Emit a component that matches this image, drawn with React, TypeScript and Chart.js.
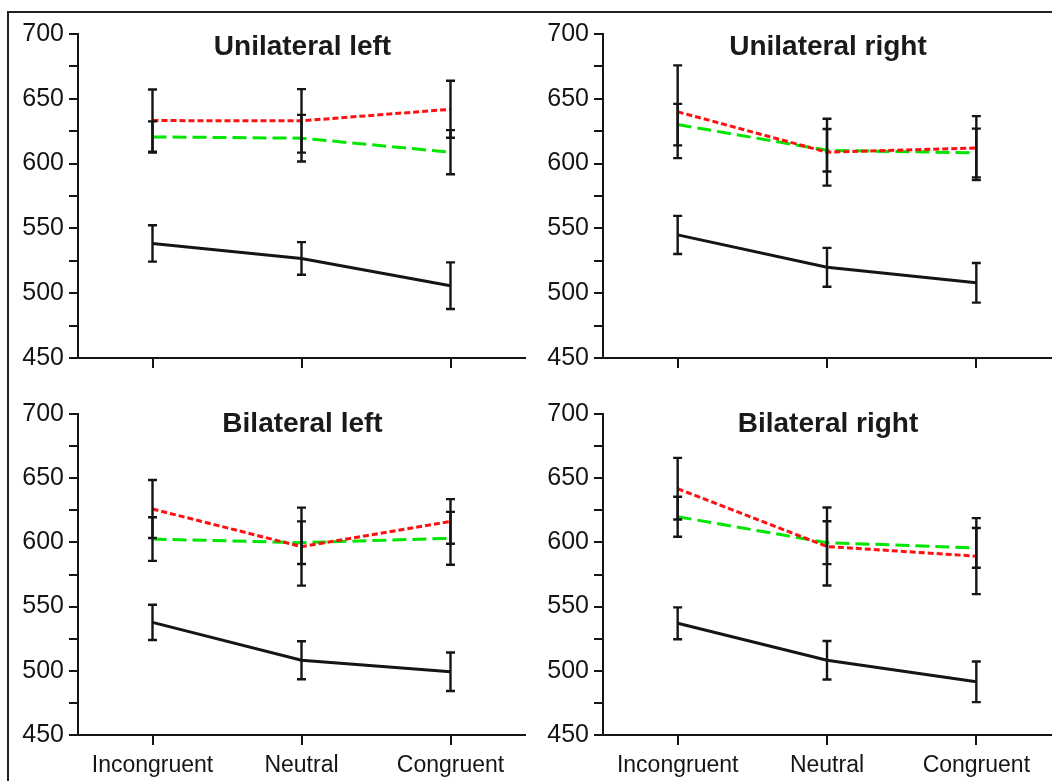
import React, { useEffect, useRef } from "react";
import { Chart, registerables } from "chart.js";

Chart.register(...registerables);

// ---------- data ----------
const categories = ["Incongruent", "Neutral", "Congruent"];
const panelTitles = ["Unilateral left", "Unilateral right", "Bilateral left", "Bilateral right"];
const yTickMin = 450;
const yTickMax = 700;
const yTickStep = 25;
const yLabelStep = 50;

// Series A: black solid line
const uniLeftA = [538.4, 526.8, 505.8];
const uniLeftAErr = [14, 12.6, 18];
const uniRightA = [545, 520, 508];
const uniRightAErr = [14.7, 15, 15.3];
const biLeftA = [537.7, 508.2, 499.3];
const biLeftAErr = [13.7, 14.8, 15];
const biRightA = [537, 508.2, 491.4];
const biRightAErr = [12.4, 15, 15.8];

// Series B: red dotted line
const uniLeftB = [633.2, 633, 641.9];
const uniLeftBErr = [24, 24.5, 22];
const uniRightB = [640, 608.8, 612];
const uniRightBErr = [35.8, 25.8, 24.6];
const biLeftB = [626, 596.7, 616.3];
const biLeftBErr = [22.6, 30.4, 17.4];
const biRightB = [641.8, 596.8, 589.3];
const biRightBErr = [24, 30.4, 29.6];

// Series C: green dashed line
const uniLeftC = [620.6, 619.6, 608.8];
const uniLeftCErr = [12, 18, 17];
const uniRightC = [630.1, 610.3, 608.2];
const uniRightCErr = [16, 16.4, 18.8];
const biLeftC = [602.6, 599.8, 603.2];
const biLeftCErr = [17, 16.6, 20.6];
const biRightC = [620, 599.8, 595.7];
const biRightCErr = [15.6, 16.7, 15.5];

const panelSeries = [
  { a: uniLeftA, aErr: uniLeftAErr, b: uniLeftB, bErr: uniLeftBErr, c: uniLeftC, cErr: uniLeftCErr },
  { a: uniRightA, aErr: uniRightAErr, b: uniRightB, bErr: uniRightBErr, c: uniRightC, cErr: uniRightCErr },
  { a: biLeftA, aErr: biLeftAErr, b: biLeftB, bErr: biLeftBErr, c: biLeftC, cErr: biLeftCErr },
  { a: biRightA, aErr: biRightAErr, b: biRightB, bErr: biRightBErr, c: biRightC, cErr: biRightCErr },
];

// ---------- layout ----------
const FONT = "'Liberation Sans', Arial, Helvetica, sans-serif";
const INK = "#151515";

type PanelLayout = {
  left: number;
  top: number;
  width: number;
  height: number;
  axisLeft: number;
  areaTop: number;
  areaBottom: number;
  titleY: number;
  showX: boolean;
};

const layouts: PanelLayout[] = [
  { left: 0, top: 0, width: 526, height: 390, axisLeft: 78, areaTop: 34, areaBottom: 358, titleY: 55, showX: false },
  { left: 526, top: 0, width: 526, height: 390, axisLeft: 77, areaTop: 34, areaBottom: 358, titleY: 55, showX: false },
  { left: 0, top: 390, width: 526, height: 391, axisLeft: 78, areaTop: 24, areaBottom: 345, titleY: 42, showX: true },
  { left: 526, top: 390, width: 526, height: 391, axisLeft: 77, areaTop: 24, areaBottom: 345, titleY: 42, showX: true },
];

const errorBarPlugin = {
  id: "errorBars",
  afterDatasetsDraw(chart: any) {
    const ctx = chart.ctx;
    const yScale = chart.scales.y;
    ctx.save();
    ctx.strokeStyle = INK;
    ctx.lineWidth = 2.4;
    ctx.setLineDash([]);
    chart.data.datasets.forEach((ds: any, di: number) => {
      const meta = chart.getDatasetMeta(di);
      const errs: number[] = ds.errors || [];
      meta.data.forEach((pt: any, i: number) => {
        const v = ds.data[i];
        const e = errs[i];
        if (e == null) return;
        const x = pt.x;
        const yTop = yScale.getPixelForValue(v + e);
        const yBot = yScale.getPixelForValue(v - e);
        const cap = 4.5;
        ctx.beginPath();
        ctx.moveTo(x, yTop);
        ctx.lineTo(x, yBot);
        ctx.moveTo(x - cap, yTop);
        ctx.lineTo(x + cap, yTop);
        ctx.moveTo(x - cap, yBot);
        ctx.lineTo(x + cap, yBot);
        ctx.stroke();
      });
    });
    ctx.restore();
  },
};

const panelTitlePlugin = {
  id: "panelTitle",
  afterDraw(chart: any, _args: any, opts: any) {
    const ctx = chart.ctx;
    const area = chart.chartArea;
    ctx.save();
    ctx.font = `bold 28px ${FONT}`;
    ctx.fillStyle = "#1a1a1a";
    ctx.textAlign = "center";
    ctx.textBaseline = "alphabetic";
    ctx.fillText(opts.text, (area.left + area.right) / 2 + 1, opts.y);
    ctx.restore();
  },
};

function Panel({ index }: { index: number }) {
  const ref = useRef<HTMLCanvasElement | null>(null);
  const lay = layouts[index];
  useEffect(() => {
    const s = panelSeries[index];
    const chart = new Chart(ref.current as HTMLCanvasElement, {
      type: "line",
      data: {
        labels: categories,
        datasets: [
          {
            data: s.b,
            errors: s.bErr,
            borderColor: "#ff1010",
            borderWidth: 3,
            borderDash: [6, 3],
            pointRadius: 0,
            fill: false,
            tension: 0,
          } as any,
          {
            data: s.c,
            errors: s.cErr,
            borderColor: "#00e600",
            borderWidth: 3,
            borderDash: [14, 6],
            pointRadius: 0,
            fill: false,
            tension: 0,
          } as any,
          {
            data: s.a,
            errors: s.aErr,
            borderColor: INK,
            borderWidth: 3,
            pointRadius: 0,
            fill: false,
            tension: 0,
          } as any,
        ],
      },
      options: {
        responsive: false,
        animation: false,
        events: [],
        layout: {
          padding: { top: lay.areaTop, right: 1, left: 0, bottom: 0 },
        },
        plugins: {
          legend: { display: false },
          tooltip: { enabled: false },
          title: { display: false },
          panelTitle: { text: panelTitles[index], y: lay.titleY },
        } as any,
        scales: {
          x: {
            type: "category",
            offset: true,
            grid: {
              display: true,
              drawOnChartArea: false,
              drawTicks: true,
              offset: false,
              tickLength: 10,
              tickColor: INK,
              tickWidth: 2,
              lineWidth: 2,
            },
            border: { display: true, color: INK, width: 2 },
            ticks: {
              display: lay.showX,
              color: INK,
              font: { family: FONT, size: 23 },
              padding: 7,
              maxRotation: 0,
              autoSkip: false,
            },
            afterFit(scale: any) {
              scale.height = lay.height - lay.areaBottom;
            },
          },
          y: {
            type: "linear",
            min: yTickMin,
            max: yTickMax,
            grid: {
              display: true,
              drawOnChartArea: false,
              drawTicks: true,
              tickLength: 9,
              tickColor: INK,
              tickWidth: 2,
              lineWidth: 2,
            },
            border: { display: true, color: INK, width: 2 },
            ticks: {
              stepSize: yTickStep,
              autoSkip: false,
              color: INK,
              padding: 5,
              font: { family: FONT, size: 25 },
              callback: (v: any) => (Number(v) % yLabelStep === 0 ? String(v) : ""),
            },
            afterFit(scale: any) {
              scale.width = lay.axisLeft;
            },
          },
        },
      } as any,
      plugins: [errorBarPlugin, panelTitlePlugin],
    });
    return () => chart.destroy();
  }, [index]);
  return (
    <canvas
      ref={ref}
      width={lay.width}
      height={lay.height}
      style={{ position: "absolute", left: lay.left, top: lay.top, width: lay.width, height: lay.height }}
    />
  );
}

export default function App() {
  return (
    <div
      style={{
        position: "fixed",
        left: 0,
        top: 0,
        width: 1052,
        height: 781,
        background: "#ffffff",
        overflow: "hidden",
      }}
    >
      <div
        style={{
          position: "absolute",
          left: 7,
          top: 11,
          width: 1100,
          height: 900,
          borderLeft: "2px solid #222",
          borderTop: "2px solid #222",
        }}
      />
      {[0, 1, 2, 3].map((i) => (
        <Panel key={i} index={i} />
      ))}
    </div>
  );
}
